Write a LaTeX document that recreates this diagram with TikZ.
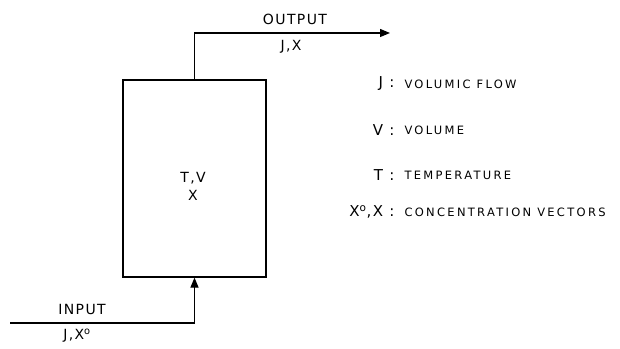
\documentclass[tikz,border=0pt]{standalone}
\usepackage{fontspec}
\setmainfont{DejaVu Sans}[LetterSpace=10]
\usetikzlibrary{arrows.meta, positioning}

\begin{document}
\begin{tikzpicture}[
    x=1pt, y=1pt,
    tank/.style={rectangle, draw, line width=1.2pt,
                 minimum width=143pt, minimum height=197pt},
    flow/.style={font=\fontsize{14}{16}\selectfont},
    sym/.style={font=\fontsize{15}{17}\selectfont, anchor=east},
    legend/.style={font=\fontsize{11.5}{13}\selectfont\addfontfeatures{LetterSpace=20}, anchor=west},
    arr/.style={-{Triangle[length=10pt, width=8pt]}, line width=1.2pt},
  ]
    \useasboundingbox (0,0) rectangle (620,348);

    % Reactor
    \node[tank] (tank) at (194.5,169.5) {};
    \node[flow, align=center] (state) at (193,162) {T,V\\[2pt]X};

    % Output stream
    \coordinate (outend) at (390,315);
    \draw[arr] (tank.north) |- (outend);
    \node[flow] (outlbl) at (295,329) {OUTPUT};
    \node[flow] (outvar) at (291,301) {J,X};

    % Input stream
    \coordinate (inbeg) at (10,25);
    \draw[arr] (inbeg) -| (tank.south);
    \node[flow] (inlbl) at (82,39) {INPUT};
    \node[flow] (invar) at (77,12) {J,X\textsuperscript{o}};

    % Legend
    \node[sym] (kj) at (398,264) {J :};
    \node[legend, right=3pt of kj] {VOLUMIC FLOW};
    \node[sym] (kv) at (398,218) {V :};
    \node[legend, right=3pt of kv] {VOLUME};
    \node[sym] (kt) at (398,173) {T :};
    \node[legend, right=3pt of kt] {TEMPERATURE};
    \node[sym] (kx) at (398,136) {X\textsuperscript{o},X :};
    \node[legend, right=3pt of kx] {CONCENTRATION VECTORS};
  \end{tikzpicture}
\end{document}
